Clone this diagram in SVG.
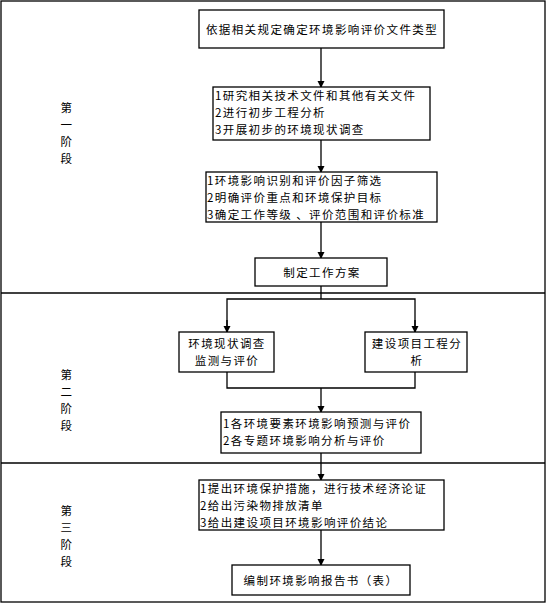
<svg xmlns="http://www.w3.org/2000/svg" width="547" height="604" viewBox="0 0 547 604">
<defs>
<marker id="arr" markerWidth="8" markerHeight="8" refX="6" refY="3.5" orient="auto" markerUnits="userSpaceOnUse">
<path d="M0,0 L7,3.5 L0,7 Z" fill="#000"/>
</marker>
<style>
.box{fill:#fff;stroke:#000;stroke-width:1.3}
.ln{fill:none;stroke:#000;stroke-width:1.3}
text{font-family:"Noto Sans CJK SC","Noto Sans CJK JP",sans-serif;font-size:11.5px;letter-spacing:1.4px;fill:#000}
.c{text-anchor:middle}
</style>
</defs>
<rect x="0" y="0" width="547" height="604" fill="#fff"/>
<g id="frame">
<rect x="1" y="1" width="544" height="601" class="ln"/>
<line x1="1" y1="293" x2="545" y2="293" class="ln"/>
<line x1="1" y1="463" x2="545" y2="463" class="ln"/>
</g>
<g id="stage1">
<text x="67" y="112" class="c">第</text>
<text x="67" y="129" class="c">一</text>
<text x="67" y="146" class="c">阶</text>
<text x="67" y="163" class="c">段</text>
</g>
<g id="stage2">
<text x="67" y="379" class="c">第</text>
<text x="67" y="396" class="c">二</text>
<text x="67" y="413" class="c">阶</text>
<text x="67" y="430" class="c">段</text>
</g>
<g id="stage3">
<text x="67" y="515" class="c">第</text>
<text x="67" y="532" class="c">三</text>
<text x="67" y="549" class="c">阶</text>
<text x="67" y="566" class="c">段</text>
</g>
<g id="connectors">
<line x1="321" y1="48" x2="321" y2="87" class="ln" marker-end="url(#arr)"/>
<line x1="321" y1="140" x2="321" y2="172" class="ln" marker-end="url(#arr)"/>
<line x1="321" y1="222" x2="321" y2="258" class="ln" marker-end="url(#arr)"/>
<polyline points="321,286 321,299" class="ln"/>
<polyline points="227,332 227,299 415,299 415,332" class="ln"/>
<line x1="227" y1="320" x2="227" y2="332" class="ln" marker-end="url(#arr)"/>
<line x1="415" y1="320" x2="415" y2="332" class="ln" marker-end="url(#arr)"/>
<polyline points="227,372 227,388 415,388 415,372" class="ln"/>
<line x1="321" y1="388" x2="321" y2="412" class="ln" marker-end="url(#arr)"/>
<line x1="321" y1="453" x2="321" y2="480" class="ln" marker-end="url(#arr)"/>
<line x1="321" y1="530" x2="321" y2="565" class="ln" marker-end="url(#arr)"/>
</g>
<g id="n1">
<rect x="199" y="10" width="245" height="38" class="box"/>
<text x="322" y="34" class="c">依据相关规定确定环境影响评价文件类型</text>
</g>
<g id="n2">
<rect x="213" y="87" width="217" height="53" class="box"/>
<text x="215" y="100">1研究相关技术文件和其他有关文件</text>
<text x="215" y="117">2进行初步工程分析</text>
<text x="215" y="134">3开展初步的环境现状调查</text>
</g>
<g id="n3">
<rect x="206" y="172" width="231" height="50" class="box"/>
<text x="207" y="185">1环境影响识别和评价因子筛选</text>
<text x="207" y="202">2明确评价重点和环境保护目标</text>
<text x="207" y="219">3确定工作等级 、评价范围和评价标准</text>
</g>
<g id="n4">
<rect x="255" y="258" width="132" height="28" class="box"/>
<text x="322" y="277" class="c">制定工作方案</text>
</g>
<g id="n5">
<rect x="179" y="332" width="95" height="40" class="box"/>
<text x="227" y="348" class="c">环境现状调查</text>
<text x="227" y="365" class="c">监测与评价</text>
</g>
<g id="n6">
<rect x="365" y="332" width="102" height="40" class="box"/>
<text x="417" y="348" class="c">建设项目工程分</text>
<text x="417" y="365" class="c">析</text>
</g>
<g id="n7">
<rect x="221" y="412" width="200" height="41" class="box"/>
<text x="223" y="428">1各环境要素环境影响预测与评价</text>
<text x="223" y="445">2各专题环境影响分析与评价</text>
</g>
<g id="n8">
<rect x="199" y="480" width="245" height="50" class="box"/>
<text x="200" y="493">1提出环境保护措施，进行技术经济论证</text>
<text x="200" y="510">2给出污染物排放清单</text>
<text x="200" y="527">3给出建设项目环境影响评价结论</text>
</g>
<g id="n9">
<rect x="232" y="565" width="178" height="30" class="box"/>
<text x="321" y="585" class="c">编制环境影响报告书（表）</text>
</g>
</svg>
